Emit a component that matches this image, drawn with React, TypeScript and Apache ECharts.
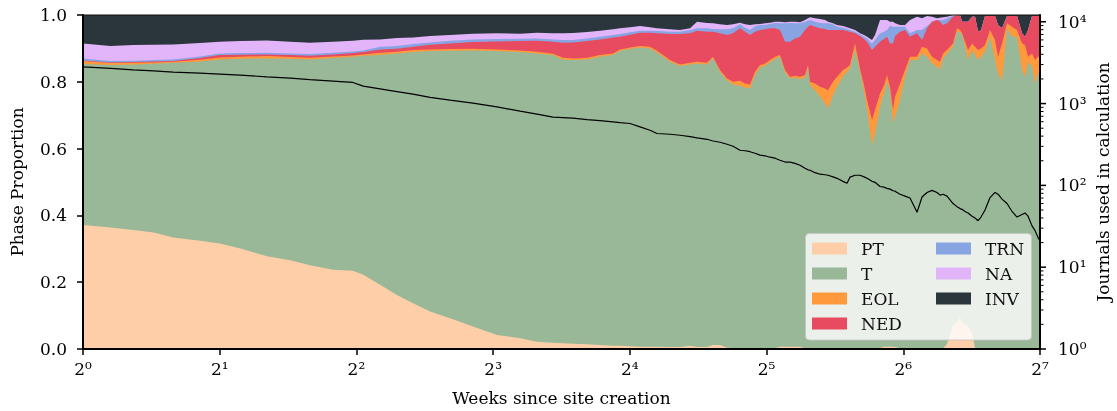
import React, { useEffect, useRef } from "react";
import * as echarts from "echarts";

// x positions (weeks since site creation)
const weeks = [
  1.0, 1.15, 1.29, 1.43, 1.58, 1.81, 2.0, 2.22, 2.54, 2.86, 3.16, 3.55, 3.93, 4.14, 4.51, 4.91,
  5.33, 5.81, 6.43, 7.22, 8.16, 9.17, 9.99, 10.84, 11.4, 11.99, 12.88, 13.75, 14.69, 15.22,
  16.01, 16.85, 17.72, 18.36, 19.61, 20.63, 21.71, 22.49, 23.66, 24.39, 25.27, 26.19, 27.0, 27.97, 28.69, 29.43, 30.18,
  30.96, 31.75, 32.56, 33.4, 34.26, 35.14, 36.04, 36.97, 37.91, 38.89, 39.48, 39.89, 40.91,
  41.96, 43.04, 43.7, 44.82, 45.74, 47.15, 48.12, 48.85, 50.11, 51.39, 52.45, 53.26, 54.62, 55.46, 56.88, 58.05, 58.94, 59.84, 60.76, 61.38,
  62.95, 64.57, 66.22, 68.62, 70.38, 72.19, 74.04, 75.94, 77.11, 78.29, 79.89,
  82.36, 84.04, 85.34, 86.2, 87.52, 88.87, 90.69, 92.08,
  93.49, 94.92, 96.87, 99.35, 101.9, 103.47, 105.59, 108.3, 111.08, 113.93, 116.86, 118.65, 120.47, 122.93, 124.82, 126.74, 128.0,
];

// cumulative top of each phase (stack order PT, T, EOL, NED, TRN, NA, INV)
const ptTop = [
  0.371, 0.364, 0.356, 0.349, 0.334, 0.324, 0.316, 0.301, 0.278, 0.266, 0.251, 0.237, 0.234, 0.222, 0.192, 0.162,
  0.137, 0.112, 0.092, 0.067, 0.042, 0.032, 0.022, 0.019, 0.017, 0.016, 0.014, 0.012, 0.01, 0.01,
  0.008, 0.007, 0.007, 0.007, 0.006, 0.006, 0.01, 0.006, 0.006, 0.012, 0.012, 0.004, 0.003, 0.003, 0.002, 0.002, 0.002,
  0, 0, 0, 0.002, 0.007, 0.007, 0.007, 0.007, 0.007, 0.002, 0, 0, 0,
  0, 0, 0, 0, 0, 0, 0, 0, 0, 0, 0, 0, 0, 0, 0.002, 0.007, 0.007, 0.007, 0.007, 0.006,
  0.002, 0, 0, 0, 0, 0, 0, 0, 0, 0.002, 0.015,
  0.07, 0.08, 0.095, 0.08, 0.072, 0.068, 0.05, 0.002,
  0, 0, 0, 0, 0, 0, 0, 0, 0, 0, 0, 0, 0, 0, 0, 0, 0,
];
const tTop = [
  0.853, 0.85, 0.852, 0.854, 0.857, 0.861, 0.867, 0.869, 0.87, 0.869, 0.867, 0.871, 0.875, 0.878, 0.88, 0.885,
  0.889, 0.892, 0.893, 0.894, 0.892, 0.889, 0.885, 0.88, 0.866, 0.865, 0.867, 0.875, 0.88, 0.893,
  0.898, 0.903, 0.9, 0.888, 0.86, 0.847, 0.852, 0.855, 0.852, 0.871, 0.83, 0.804, 0.792, 0.788, 0.783, 0.78, 0.82,
  0.843, 0.848, 0.858, 0.868, 0.875, 0.828, 0.81, 0.812, 0.808, 0.812, 0.843, 0.79, 0.775,
  0.755, 0.735, 0.72, 0.76, 0.785, 0.815, 0.83, 0.84, 0.895, 0.83, 0.77, 0.716, 0.611, 0.646, 0.725, 0.765, 0.8, 0.775, 0.676, 0.696,
  0.745, 0.815, 0.865, 0.865, 0.885, 0.875, 0.855, 0.845, 0.837, 0.87, 0.885,
  0.905, 0.95, 0.948, 0.94, 0.905, 0.865, 0.895, 0.88,
  0.865, 0.875, 0.89, 0.935, 0.865, 0.825, 0.805, 0.96, 0.935, 0.935, 0.835, 0.815, 0.86, 0.845, 0.795, 0.825, 0.83,
];
const eolTop = [
  0.862, 0.856, 0.857, 0.858, 0.86, 0.866, 0.873, 0.875, 0.877, 0.874, 0.872, 0.876, 0.879, 0.882, 0.887, 0.89,
  0.895, 0.897, 0.898, 0.899, 0.897, 0.894, 0.89, 0.884, 0.872, 0.87, 0.872, 0.88, 0.885, 0.897,
  0.903, 0.907, 0.905, 0.893, 0.865, 0.852, 0.857, 0.86, 0.857, 0.875, 0.835, 0.81, 0.8, 0.803, 0.795, 0.792, 0.83,
  0.85, 0.855, 0.865, 0.875, 0.88, 0.835, 0.815, 0.818, 0.815, 0.82, 0.85, 0.8, 0.795,
  0.785, 0.78, 0.775, 0.8, 0.815, 0.835, 0.843, 0.85, 0.915, 0.84, 0.79, 0.745, 0.686, 0.716, 0.765, 0.79, 0.82, 0.785, 0.716, 0.755,
  0.795, 0.835, 0.875, 0.875, 0.905, 0.9, 0.875, 0.865, 0.86, 0.885, 0.895,
  0.915, 0.96, 0.955, 0.945, 0.92, 0.895, 0.915, 0.905,
  0.895, 0.9, 0.91, 0.955, 0.925, 0.875, 0.915, 0.975, 0.965, 0.955, 0.915, 0.91, 0.875, 0.885, 0.865, 0.875, 0.88,
];
const nedTop = [
  0.864, 0.858, 0.859, 0.861, 0.862, 0.871, 0.88, 0.881, 0.882, 0.88, 0.878, 0.882, 0.886, 0.889, 0.897, 0.899,
  0.905, 0.911, 0.915, 0.919, 0.921, 0.922, 0.923, 0.92, 0.917, 0.918, 0.922, 0.927, 0.933, 0.935,
  0.941, 0.947, 0.947, 0.945, 0.943, 0.943, 0.945, 0.953, 0.95, 0.95, 0.945, 0.94, 0.945, 0.96, 0.95, 0.94, 0.95,
  0.955, 0.957, 0.96, 0.96, 0.955, 0.92, 0.92, 0.93, 0.935, 0.955, 0.965, 0.97, 0.965,
  0.96, 0.958, 0.955, 0.955, 0.955, 0.955, 0.952, 0.95, 0.945, 0.937, 0.928, 0.92, 0.895, 0.905, 0.92, 0.928, 0.935, 0.915, 0.915, 0.937,
  0.95, 0.955, 0.935, 0.945, 0.925, 0.96, 0.98, 0.985, 0.98, 0.97, 0.975,
  0.995, 1.0, 1.0, 0.98, 0.98, 0.98, 0.995, 0.995,
  0.95, 0.955, 0.997, 0.997, 0.997, 0.97, 0.96, 0.997, 0.997, 0.997, 0.945, 0.935, 0.955, 0.997, 0.997, 0.997, 0.997,
];
const trnTop = [
  0.87, 0.862, 0.863, 0.865, 0.867, 0.876, 0.885, 0.886, 0.887, 0.885, 0.883, 0.887, 0.891, 0.894, 0.905, 0.907,
  0.913, 0.918, 0.923, 0.927, 0.928, 0.929, 0.93, 0.927, 0.925, 0.925, 0.93, 0.935, 0.94, 0.943,
  0.948, 0.953, 0.953, 0.952, 0.95, 0.95, 0.955, 0.96, 0.96, 0.958, 0.957, 0.957, 0.96, 0.972, 0.962, 0.955, 0.966,
  0.97, 0.97, 0.973, 0.976, 0.975, 0.975, 0.976, 0.975, 0.975, 0.98, 0.983, 0.985, 0.98,
  0.976, 0.975, 0.975, 0.972, 0.965, 0.962, 0.958, 0.955, 0.95, 0.942, 0.935, 0.93, 0.915, 0.925, 0.945, 0.95, 0.955, 0.968, 0.965, 0.965,
  0.965, 0.965, 0.945, 0.955, 0.955, 0.967, 0.98, 0.985, 0.985, 0.985, 0.99,
  0.998, 1.0, 1.0, 0.98, 0.98, 0.98, 0.995, 0.995,
  0.95, 0.955, 0.997, 0.997, 0.997, 0.97, 0.96, 0.997, 0.997, 0.997, 0.945, 0.935, 0.955, 0.997, 0.997, 0.997, 0.997,
];
const naTop = [
  0.915, 0.907, 0.91, 0.911, 0.912, 0.916, 0.92, 0.922, 0.924, 0.92, 0.917, 0.92, 0.923, 0.926, 0.927, 0.931,
  0.933, 0.937, 0.94, 0.944, 0.945, 0.944, 0.947, 0.945, 0.945, 0.946, 0.949, 0.953, 0.957, 0.96,
  0.963, 0.967, 0.963, 0.96, 0.957, 0.955, 0.96, 0.98, 0.976, 0.975, 0.972, 0.97, 0.972, 0.977, 0.972, 0.97, 0.972,
  0.973, 0.975, 0.977, 0.98, 0.98, 0.978, 0.98, 0.98, 0.978, 0.985, 0.99, 0.993, 0.99,
  0.988, 0.985, 0.98, 0.975, 0.97, 0.967, 0.963, 0.96, 0.955, 0.945, 0.94, 0.935, 0.925, 0.94, 0.985, 0.985, 0.985, 0.98, 0.98, 0.975,
  0.97, 0.97, 0.985, 0.995, 0.99, 0.997, 0.995, 0.99, 0.992, 0.993, 0.995,
  1.0, 1.0, 1.0, 0.98, 0.98, 0.98, 0.995, 0.995,
  0.95, 0.955, 0.997, 0.997, 0.997, 0.97, 0.96, 0.997, 0.997, 0.997, 0.945, 0.935, 0.955, 0.997, 0.997, 0.997, 0.997,
];
const totalShare = 1; // INV fills up to the full proportion

// journals used in calculation (right log axis)
const journals = [
  2813, 2690, 2578, 2506, 2423, 2355, 2291, 2228, 2124, 2047, 1963, 1880, 1812, 1633, 1510, 1400,
  1303, 1188, 1101, 1012, 912, 807, 742, 682, 672, 663, 635, 618, 597, 584,
  571, 519, 472, 431, 422, 410, 394, 380, 366, 349, 337, 318, 301, 269, 265, 258, 247,
  234, 230, 221, 215, 203, 193, 192, 186, 176, 162, 155, 153, 143,
  137, 135, 133, 127, 122, 112, 106, 126, 133, 133, 127, 122, 112, 109, 97, 95, 92, 90, 86, 85,
  78, 74, 70, 47, 72, 82, 87, 82, 76, 78, 74,
  60, 55, 52, 51, 48, 46, 42, 40,
  37, 41, 50, 71, 82, 78, 68, 60, 48, 41, 44, 46, 42, 32, 28, 23, 21,
];

const legendLeftCol = ["PT", "T", "EOL", "NED"];
const legendRightCol = ["TRN", "NA", "INV"];
const phaseColors: Record<string, string> = {
  PT: "#FECEA8",
  T: "#99B898",
  EOL: "#FF9A3C",
  NED: "#E84A5F",
  TRN: "#88A4E2",
  NA: "#E2B4FA",
  INV: "#2A363B",
};
const leftTicks = [0, 0.2, 0.4, 0.6, 0.8, 1.0];
const rightMajor = [1, 10, 100, 1000, 10000];
const rightMinorFactors = [2, 3, 4, 5, 6, 7, 8, 9];
const superDigits = ["⁰", "¹", "²", "³", "⁴", "⁵", "⁶", "⁷", "⁸", "⁹"];

const FONT = "DejaVu Serif";
const FS = 17;

export default function App() {
  const ref = useRef<HTMLDivElement>(null);
  useEffect(() => {
    const chart = echarts.init(ref.current!, null, { renderer: "svg" });
    const pair = (arr: number[]) => weeks.map((w, i) => [w, arr[i]]);
    const area = (name: string, data: number[][]) => ({
      name,
      type: "line",
      data,
      showSymbol: false,
      symbol: "none",
      silent: true,
      color: phaseColors[name],
      itemStyle: { color: phaseColors[name] },
      lineStyle: { width: 0, opacity: 0 },
      areaStyle: { color: phaseColors[name], opacity: 1 },
      emphasis: { disabled: true },
      z: 2,
    });
    const legendItem = (name: string, left: number, top: number) => ({
      data: [{ name, icon: "rect", itemStyle: { color: phaseColors[name], borderWidth: 0 } }],
      left,
      top,
      orient: "vertical",
      itemWidth: 35,
      itemHeight: 12,
      padding: 0,
      z: 20,
      selectedMode: false,
      textStyle: { fontSize: FS, fontFamily: FONT, color: "#111", padding: [0, 0, 0, 9] },
    });
    const legends: any[] = [];
    legendLeftCol.forEach((n, i) => legends.push(legendItem(n, 812, 240 + i * 25)));
    legendRightCol.forEach((n, i) => legends.push(legendItem(n, 936, 240 + i * 25)));
    const labelStyle = { fontSize: FS, fontFamily: FONT, color: "#000" };

    chart.setOption({
      animation: false,
      grid: { left: 83, right: 77, top: 15, bottom: 62, containLabel: false, outerBoundsMode: "none" },
      legend: legends,
      xAxis: {
        type: "log",
        logBase: 2,
        min: 1,
        max: 128,
        z: 10,
        name: "Weeks since site creation",
        nameLocation: "middle",
        nameGap: 40,
        nameMoveOverlap: false,
        nameTextStyle: labelStyle,
        axisLine: { lineStyle: { color: "#000", width: 2 } },
        axisTick: { length: 6, lineStyle: { color: "#000", width: 1.5 } },
        splitLine: { show: false },
        minorTick: { show: false },
        axisLabel: {
          ...labelStyle,
          margin: 11,
          formatter: (v: number) => "2" + superDigits[Math.round(Math.log2(v))],
        },
      },
      yAxis: [
        {
          type: "value",
          min: 0,
          max: 1,
          interval: 0.2,
          z: 10,
          name: "Phase Proportion",
          nameLocation: "middle",
          nameGap: 58,
          nameMoveOverlap: false,
          nameTextStyle: labelStyle,
          axisLine: { show: true, lineStyle: { color: "#000", width: 2 } },
          axisTick: { show: true, length: 6, lineStyle: { color: "#000", width: 1.5 } },
          splitLine: { show: false },
          axisLabel: {
            ...labelStyle,
            margin: 16,
            formatter: (v: number) => (leftTicks.some((t) => Math.abs(t - v) < 1e-9) ? v.toFixed(1) : ""),
          },
        },
        {
          type: "log",
          logBase: 10,
          min: 1,
          max: 12100,
          position: "right",
          z: 10,
          name: "Journals used in calculation",
          nameLocation: "middle",
          nameRotate: 90,
          nameGap: 54,
          nameMoveOverlap: false,
          nameTextStyle: labelStyle,
          axisLine: { show: true, lineStyle: { color: "#000", width: 2 } },
          axisTick: { show: false },
          splitLine: { show: false },
          axisLabel: {
            ...labelStyle,
            margin: 18,
            formatter: (v: number) => {
              const n = Math.log10(v);
              const r = Math.round(n);
              return Math.abs(n - r) < 1e-6 ? "10" + superDigits[r] : "";
            },
          },
        },
      ],
      series: [
        area("INV", weeks.map((w) => [w, totalShare])),
        area("NA", pair(naTop)),
        area("TRN", pair(trnTop)),
        area("NED", pair(nedTop)),
        area("EOL", pair(eolTop)),
        area("T", pair(tTop)),
        area("PT", pair(ptTop)),
        {
          name: "Journals",
          type: "line",
          yAxisIndex: 1,
          data: pair(journals),
          showSymbol: false,
          symbol: "none",
          silent: true,
          color: "#000",
          lineStyle: { color: "#000", width: 1.2 },
          emphasis: { disabled: true },
          z: 5,
        },
      ],
    });

    // ticks for the right log axis (major and 2..9 minor), placed via the axis scale
    const xRight = chart.convertToPixel({ xAxisIndex: 0 }, 128) as number;
    const xLeft = chart.convertToPixel({ xAxisIndex: 0 }, 1) as number;
    const yTop = chart.convertToPixel({ yAxisIndex: 0 }, 1) as number;
    const elements: any[] = [];
    rightMajor.forEach((v) => {
      const y = chart.convertToPixel({ yAxisIndex: 1 }, v) as number;
      elements.push({
        type: "line",
        z: 30,
        shape: { x1: xRight, y1: y, x2: xRight + 6, y2: y },
        style: { stroke: "#000", lineWidth: 1.5 },
      });
    });
    rightMajor.slice(0, 4).forEach((base) => {
      rightMinorFactors.forEach((k) => {
        const y = chart.convertToPixel({ yAxisIndex: 1 }, base * k) as number;
        elements.push({
          type: "line",
          z: 30,
          shape: { x1: xRight, y1: y, x2: xRight + 3.5, y2: y },
          style: { stroke: "#000", lineWidth: 1 },
        });
      });
    });
    elements.push({
      type: "line",
      z: 30,
      shape: { x1: xLeft, y1: yTop, x2: xRight, y2: yTop },
      style: { stroke: "#111", lineWidth: 1.2 },
    });
    elements.push({
      type: "rect",
      z: 15,
      shape: { x: 805.5, y: 233.5, width: 226, height: 106.5, r: 4 },
      style: { fill: "rgba(255,255,255,0.8)", stroke: "rgba(200,200,200,0.9)", lineWidth: 1 },
    });
    chart.setOption({ graphic: { elements } });

    return () => chart.dispose();
  }, []);
  return (
    <div
      ref={ref}
      style={{ position: "fixed", left: 0, top: 0, width: 1117, height: 411 }}
    />
  );
}
